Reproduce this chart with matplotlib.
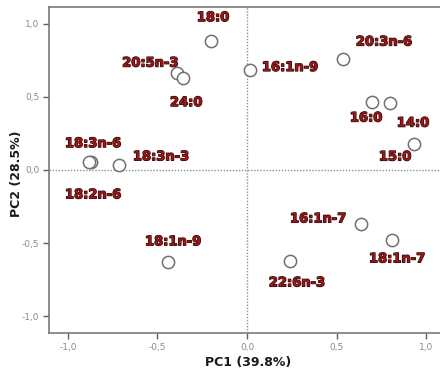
import matplotlib
matplotlib.use("Agg")
import matplotlib.pyplot as plt
import matplotlib.patheffects as pe
from matplotlib.ticker import FuncFormatter

# PCA loadings of fatty acids
names = ["18:0", "20:5n-3", "24:0", "18:3n-6", "18:2n-6", "18:3n-3",
         "16:1n-9", "20:3n-6", "16:0", "14:0", "15:0",
         "18:1n-9", "16:1n-7", "18:1n-7", "22:6n-3"]
pc1 = [-0.20, -0.39, -0.36, -0.87, -0.88, -0.715,
       0.017, 0.536, 0.70, 0.80, 0.93,
       -0.44, 0.635, 0.81, 0.24]
pc2 = [0.88, 0.66, 0.63, 0.057, 0.052, 0.035,
       0.68, 0.76, 0.465, 0.46, 0.18,
       -0.63, -0.37, -0.48, -0.62]
# where each name is written (data units)
lab_x = [-0.19, -0.54, -0.34, -0.86, -0.86, -0.48,
         0.24, 0.765, 0.665, 0.927, 0.827,
         -0.413, 0.397, 0.838, 0.279]
lab_y = [1.04, 0.73, 0.46, 0.18, -0.17, 0.09,
         0.70, 0.874, 0.355, 0.32, 0.089,
         -0.49, -0.334, -0.607, -0.771]

xticks = [-1.0, -0.5, 0.0, 0.5, 1.0]
yticks = [-1.0, -0.5, 0.0, 0.5, 1.0]

fig = plt.figure(figsize=(4.4, 3.78), dpi=100)
ax = fig.add_axes([49 / 440, 45 / 378, 391 / 440, 326 / 378])

ax.axhline(0, color="#909090", lw=1.0, ls=(0, (1, 1.2)), zorder=1)
ax.axvline(0, color="#909090", lw=1.0, ls=(0, (1, 1.2)), zorder=1)

ax.scatter(pc1, pc2, s=78, facecolors="white", edgecolors="#707070",
           linewidths=1.1, zorder=3)

for n, x, y in zip(names, lab_x, lab_y):
    ax.text(x, y, n, color="#961818", fontsize=9.4,
            fontweight="bold", ha="center", va="center", zorder=4,
            path_effects=[pe.withStroke(linewidth=0.9, foreground="#2a0606")])

ax.set_xlim(-1.106, 1.078)
ax.set_ylim(-1.113, 1.113)
ax.set_xticks(xticks)
ax.set_yticks(yticks)
fmt = FuncFormatter(lambda v, p: f"{v:.1f}".replace(".", ","))
ax.xaxis.set_major_formatter(fmt)
ax.yaxis.set_major_formatter(fmt)
ax.tick_params(direction="out", length=4, width=1, color="#606060",
               labelcolor="#8a8a8a", labelsize=6.5, pad=3)

for side in ("left", "bottom", "top"):
    ax.spines[side].set_color("#7a7a7a")
    ax.spines[side].set_linewidth(1.2)
ax.spines["right"].set_visible(False)

ax.set_xlabel("PC1 (39.8%)", fontsize=9, fontweight="bold",
              color="#1a1a1a", va="center")
ax.set_ylabel("PC2 (28.5%)", fontsize=9, fontweight="bold",
              color="#1a1a1a", va="center")
ax.xaxis.set_label_coords(0.508, -0.089)
ax.yaxis.set_label_coords(-0.084, 0.49)

fig.savefig("out.png", dpi=100)
